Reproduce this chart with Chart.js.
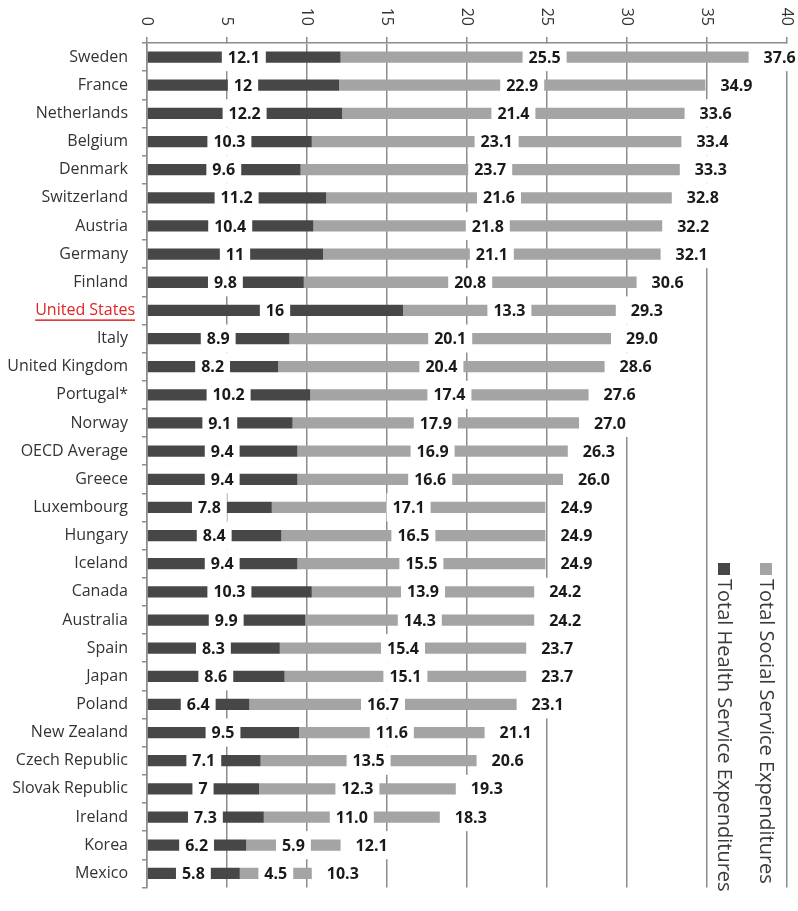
<!DOCTYPE html>
<html>
<head>
<meta charset="utf-8">
<script src="https://cdn.jsdelivr.net/npm/chart.js@4.4.1/dist/chart.umd.min.js"></script>
<style>
    body { margin: 0; background: #fff; }
    #wrap { width: 798px; height: 911px; position: relative; }
</style>
</head>
<body>
<div id="wrap"><canvas id="myChart"></canvas></div>
<script>
// data
const countries = ['Sweden', 'France', 'Netherlands', 'Belgium', 'Denmark', 'Switzerland', 'Austria', 'Germany',
    'Finland', 'United States', 'Italy', 'United Kingdom', 'Portugal*', 'Norway', 'OECD Average', 'Greece',
    'Luxembourg', 'Hungary', 'Iceland', 'Canada', 'Australia', 'Spain', 'Japan', 'Poland', 'New Zealand',
    'Czech Republic', 'Slovak Republic', 'Ireland', 'Korea', 'Mexico'];
const health = [12.1, 12, 12.2, 10.3, 9.6, 11.2, 10.4, 11, 9.8, 16, 8.9, 8.2, 10.2, 9.1, 9.4, 9.4,
    7.8, 8.4, 9.4, 10.3, 9.9, 8.3, 8.6, 6.4, 9.5, 7.1, 7, 7.3, 6.2, 5.8];
const social = [25.5, 22.9, 21.4, 23.1, 23.7, 21.6, 21.8, 21.1, 20.8, 13.3, 20.1, 20.4, 17.4, 17.9, 16.9, 16.6,
    17.1, 16.5, 15.5, 13.9, 14.3, 15.4, 15.1, 16.7, 11.6, 13.5, 12.3, 11.0, 5.9, 4.5];
const totals = [37.6, 34.9, 33.6, 33.4, 33.3, 32.8, 32.2, 32.1, 30.6, 29.3, 29.0, 28.6, 27.6, 27.0, 26.3, 26.0,
    24.9, 24.9, 24.9, 24.2, 24.2, 23.7, 23.7, 23.1, 21.1, 20.6, 19.3, 18.3, 12.1, 10.3];
const xTicks = [0, 5, 10, 15, 20, 25, 30, 35, 40];
const seriesNames = ['Total Health Service Expenditures', 'Total Social Service Expenditures'];

const DARK = '#474747';
const LIGHT = '#a4a4a4';
const GRID = '#8c8c8c';
const FONT = '"Open Sans", "Noto Sans", sans-serif';
const HIGHLIGHT = 'United States';

function boxLabel(ctx, text, cx, cy, rowH) {
    ctx.font = 'bold 16px ' + FONT;
    const w = ctx.measureText(text).width + 12;
    ctx.fillStyle = '#fff';
    ctx.fillRect(cx - w / 2, cy - rowH / 2, w, rowH);
    ctx.fillStyle = '#1a1a1a';
    ctx.textAlign = 'center';
    ctx.textBaseline = 'middle';
    ctx.fillText(text, cx, cy + 1);
}

const valueLabels = {
    id: 'valueLabels',
    afterDatasetsDraw(chart) {
        const ctx = chart.ctx;
        const x = chart.scales.x, y = chart.scales.y;
        const area = chart.chartArea;
        const rowH = (area.bottom - area.top) / countries.length;
        ctx.save();
        ctx.beginPath();
        ctx.rect(area.left + 1, area.top + 1, area.right - area.left + 20, area.bottom - area.top);
        ctx.clip();
        countries.forEach((c, i) => {
            const cy = y.getPixelForValue(i);
            boxLabel(ctx, String(health[i]), x.getPixelForValue(health[i] / 2), cy, rowH);
            boxLabel(ctx, social[i].toFixed(1), x.getPixelForValue(health[i] + social[i] / 2), cy, rowH);
            boxLabel(ctx, totals[i].toFixed(1), x.getPixelForValue(health[i] + social[i]) + 31, cy, rowH);
        });
        ctx.restore();
    }
};

const extras = {
    id: 'extras',
    afterDraw(chart) {
        const ctx = chart.ctx;
        const x = chart.scales.x, y = chart.scales.y;
        ctx.save();
        // x tick labels, turned clockwise
        ctx.font = '16px ' + FONT;
        ctx.fillStyle = '#333';
        ctx.textAlign = 'right';
        ctx.textBaseline = 'middle';
        xTicks.forEach(v => {
            ctx.save();
            ctx.translate(x.getPixelForValue(v), 26);
            ctx.rotate(Math.PI / 2);
            ctx.fillText(String(v), 0, 0);
            ctx.restore();
        });

        // highlighted country
        const idx = countries.indexOf(HIGHLIGHT);
        const cy = y.getPixelForValue(idx);
        ctx.font = '16px ' + FONT;
        ctx.fillStyle = '#e02424';
        ctx.textAlign = 'right';
        ctx.fillText(HIGHLIGHT, 135, cy);
        const tw = ctx.measureText(HIGHLIGHT).width;
        ctx.fillRect(135 - tw, cy + 9, tw, 1.5);

        // legend, turned clockwise
        const legend = [
            {name: seriesNames[1], color: LIGHT, x: 766},
            {name: seriesNames[0], color: DARK, x: 724}
        ];
        ctx.font = '20px ' + FONT;
        ctx.textAlign = 'left';
        legend.forEach(l => {
            ctx.fillStyle = l.color;
            ctx.fillRect(l.x - 6, 563, 12, 12);
            ctx.save();
            ctx.translate(l.x, 579);
            ctx.rotate(Math.PI / 2);
            ctx.fillStyle = '#3a3a3a';
            ctx.fillText(l.name, 0, 0);
            ctx.restore();
        });
        ctx.restore();
    }
};

new Chart(document.getElementById('myChart'), {
    type: 'bar',
    data: {
        labels: countries,
        datasets: [
            {label: seriesNames[0], data: health, backgroundColor: DARK, barPercentage: 0.4, categoryPercentage: 1},
            {label: seriesNames[1], data: social, backgroundColor: LIGHT, barPercentage: 0.4, categoryPercentage: 1}
        ]
    },
    options: {
        indexAxis: 'y',
        responsive: true,
        maintainAspectRatio: false,
        animation: false,
        layout: {padding: {left: 0, right: 11, top: 0, bottom: 0}},
        plugins: {legend: {display: false}, tooltip: {enabled: false}},
        scales: {
            x: {
                position: 'top',
                stacked: true,
                min: 0,
                max: 40,
                ticks: {display: false, stepSize: 5},
                grid: {color: GRID, lineWidth: 1.5, tickLength: 6, tickColor: GRID},
                border: {color: GRID, width: 1.5},
                afterFit: s => { s.height = 43; }
            },
            y: {
                stacked: true,
                ticks: {
                    padding: 14,
                    font: {family: FONT, size: 16},
                    color: c => countries[c.index] === HIGHLIGHT ? 'rgba(0,0,0,0)' : '#333'
                },
                grid: {drawOnChartArea: false, offset: true, tickLength: 5, color: GRID, lineWidth: 1.5},
                border: {color: GRID, width: 1.5},
                afterFit: s => { s.width = 147; }
            }
        }
    },
    plugins: [valueLabels, extras]
});
</script>
</body>
</html>
